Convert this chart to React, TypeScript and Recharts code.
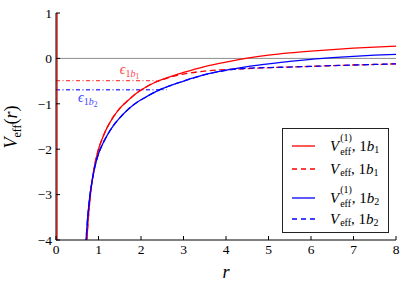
import React from 'react';
import { LineChart, Line, XAxis, YAxis, ReferenceLine, ReferenceDot, Legend } from 'recharts';

// radial coordinate samples
const rGrid = [0.7, 0.75, 0.8, 0.85, 0.9, 1.0, 1.1, 1.2, 1.35, 1.5, 1.7, 1.9, 2.1, 2.35, 2.6, 3.0, 3.5, 4.0, 4.5, 5.0, 5.5, 6.0, 6.5, 7.0, 7.5, 8.0];
// V_eff^(1), 1b1 (red solid)
const v1b1 = [-4.4, -3.65, -3.1, -2.7, -2.4, -2.0, -1.74, -1.53, -1.29, -1.1, -0.92, -0.76, -0.64, -0.52, -0.43, -0.31, -0.18, -0.08, 0.005, 0.07, 0.12, 0.16, 0.195, 0.225, 0.25, 0.27];
// V_eff, 1b1 (red dashed)
const veff1b1 = [-4.4, -3.65, -3.1, -2.7, -2.4, -2.0, -1.74, -1.53, -1.29, -1.1, -0.92, -0.76, -0.64, -0.52, -0.44, -0.345, -0.28, -0.245, -0.225, -0.205, -0.19, -0.175, -0.16, -0.145, -0.133, -0.12];
// V_eff^(1), 1b2 (blue solid)
const v1b2 = [-4.1, -3.45, -3.0, -2.7, -2.45, -2.1, -1.88, -1.7, -1.48, -1.31, -1.12, -0.97, -0.86, -0.73, -0.63, -0.5, -0.36, -0.26, -0.18, -0.12, -0.065, -0.02, 0.015, 0.045, 0.07, 0.09];
// V_eff, 1b2 (blue dashed)
const veff1b2 = [-4.1, -3.45, -3.0, -2.7, -2.45, -2.1, -1.88, -1.7, -1.48, -1.31, -1.12, -0.97, -0.86, -0.73, -0.63, -0.5, -0.36, -0.265, -0.218, -0.203, -0.19, -0.175, -0.16, -0.145, -0.133, -0.12];

// steep branch at r -> 0
const edgeR = [0.025, 0.025];
const edgeV = [1, -4];

// eigenvalue levels
const epsNames = ['1b1', '1b2'];
const epsValues = [-0.49, -0.69];
const epsEndR = [2.37, 2.6];
const epsLabelR = [1.5, 0.52];
const epsLabelV = [-0.35, -0.97];

const xTicks = [0, 1, 2, 3, 4, 5, 6, 7, 8];
const yTicks = [-4, -3, -2, -1, 0, 1];

const RED = '#ff0000';
const BLUE = '#0000ff';
const RED_LIGHT = '#ff4848';
const BLUE_LIGHT = '#4848ff';
const FONT = '"Liberation Serif", "DejaVu Serif", serif';

const data = rGrid.map((r, i) => ({ r, a: v1b1[i], b: veff1b1[i], c: v1b2[i], d: veff1b2[i] }));
const edgeData = edgeR.map((r, i) => ({ r, v: edgeV[i] }));
const epsData = epsValues.map((v, i) => [{ r: 0, v }, { r: epsEndR[i], v }]);

const fmt = (v: number) => (v < 0 ? '\u2212' + Math.abs(v) : String(v));

const YLabel = () => (
  <text
    x={17}
    y={127}
    transform="rotate(-90 17 127)"
    textAnchor="middle"
    fontFamily={FONT}
    fontSize={18}
    fill="#000"
  >
    <tspan fontStyle="italic">V</tspan>
    <tspan fontSize={12} dy={4}>eff</tspan>
    <tspan dy={-4}>(</tspan>
    <tspan fontStyle="italic">r</tspan>
    <tspan>)</tspan>
  </text>
);

const XLabel = () => (
  <text x={226} y={278} textAnchor="middle" fontFamily={FONT} fontSize={18} fontStyle="italic" fill="#000">
    r
  </text>
);

const makeEpsLabel = (idx: number, color: string) => (props: any) => {
  const vb = props.viewBox || {};
  const x = vb.x ?? 0;
  const y = vb.y ?? 0;
  const name = epsNames[idx];
  return (
    <text x={x} y={y} fontFamily={FONT} fontSize={14} fill={color}>
      <tspan fontStyle="italic">{'\u03F5'}</tspan>
      <tspan fontSize={10} dy={3}>{name[0]}</tspan>
      <tspan fontSize={10} fontStyle="italic">{name[1]}</tspan>
      <tspan fontSize={7.5} dy={2}>{name[2]}</tspan>
    </text>
  );
};

const legendRows = [
  { color: RED, dash: undefined as string | undefined, sup: true, idx: '1' },
  { color: RED, dash: '5 4', sup: false, idx: '1' },
  { color: BLUE, dash: undefined as string | undefined, sup: true, idx: '2' },
  { color: BLUE, dash: '5 4', sup: false, idx: '2' },
];
const legendCenters = [17, 40, 69, 90];

const LegendBox = () => (
  <div
    style={{
      position: 'relative',
      width: 107,
      height: 105,
      boxSizing: 'border-box',
      border: '1px solid #222',
      background: '#fff',
      fontFamily: FONT,
      fontSize: 15,
      color: '#000',
    }}
  >
    {legendRows.map((row, i) => (
      <div
        key={i}
        style={{
          position: 'absolute',
          left: 9,
          top: legendCenters[i] - 11,
          height: 22,
          display: 'flex',
          alignItems: 'center',
          whiteSpace: 'nowrap',
        }}
      >
        <svg width={23} height={4} style={{ display: 'block' }}>
          <line x1={0} y1={2} x2={23} y2={2} stroke={row.color} strokeWidth={1.3} strokeDasharray={row.dash} />
        </svg>
        <span style={{ marginLeft: 15, display: 'inline-flex', alignItems: 'center', lineHeight: 1 }}>
          <i>V</i>
          {row.sup ? (
            <span
              style={{
                display: 'inline-flex',
                flexDirection: 'column',
                fontSize: 10,
                lineHeight: 1,
                marginLeft: 1,
              }}
            >
              <span style={{ position: 'relative', top: -3 }}>(1)</span>
              <span style={{ position: 'relative', top: 1 }}>eff</span>
            </span>
          ) : (
            <span style={{ fontSize: 10, position: 'relative', top: 4, marginLeft: 1 }}>eff</span>
          )}
          <span>,&nbsp;1</span>
          <i>b</i>
          <span style={{ fontSize: 10, position: 'relative', top: 4 }}>{row.idx}</span>
        </span>
      </div>
    ))}
  </div>
);

const tickStyle = { fontFamily: FONT, fontSize: 13.5, fill: '#000' };

export default function App() {
  return (
    <div style={{ position: 'absolute', left: 0, top: 0, width: 407, height: 290, background: '#fff' }}>
      <LineChart width={407} height={290} data={data} margin={{ top: 13, right: 11, bottom: 0, left: 0 }}>
        <XAxis
          dataKey="r"
          type="number"
          domain={[0, 8]}
          ticks={xTicks}
          allowDataOverflow
          height={50}
          stroke="#000"
          tickSize={-4}
          tickMargin={8}
          tick={tickStyle}
          tickLine={{ stroke: '#000' }}
          axisLine={{ stroke: '#000' }}
          label={<XLabel />}
        />
        <XAxis
          xAxisId="top"
          orientation="top"
          dataKey="r"
          type="number"
          domain={[0, 8]}
          ticks={xTicks}
          allowDataOverflow
          height={0}
          tickSize={-4}
          tickFormatter={() => ''}
          tickLine={{ stroke: '#000' }}
          axisLine={{ stroke: '#000' }}
        />
        <YAxis
          type="number"
          domain={[-4, 1]}
          ticks={yTicks}
          allowDataOverflow
          width={56}
          tickSize={-4}
          tickMargin={8}
          tick={tickStyle}
          tickFormatter={fmt}
          tickLine={{ stroke: '#000' }}
          axisLine={{ stroke: '#000' }}
          label={<YLabel />}
        />
        <YAxis
          yAxisId="right"
          orientation="right"
          type="number"
          domain={[-4, 1]}
          ticks={yTicks}
          allowDataOverflow
          width={0}
          tickSize={-4}
          tickFormatter={() => ''}
          tickLine={{ stroke: '#000' }}
          axisLine={{ stroke: '#000' }}
        />
        <ReferenceLine y={0} stroke="#8c8c8c" strokeWidth={1} />
        <Line
          data={epsData[0]}
          dataKey="v"
          type="linear"
          stroke={RED_LIGHT}
          strokeWidth={1.4}
          strokeDasharray="4 2.5 1 2.5"
          dot={false}
          isAnimationActive={false}
          legendType="none"
        />
        <Line
          data={epsData[1]}
          dataKey="v"
          type="linear"
          stroke={BLUE_LIGHT}
          strokeWidth={1.4}
          strokeDasharray="4 2.5 1 2.5"
          dot={false}
          isAnimationActive={false}
          legendType="none"
        />
        <Line
          data={edgeData}
          dataKey="v"
          type="linear"
          stroke={RED}
          strokeWidth={1.2}
          dot={false}
          isAnimationActive={false}
          legendType="none"
        />
        <Line dataKey="a" type="monotone" stroke={RED} strokeWidth={1.3} dot={false} isAnimationActive={false} />
        <Line dataKey="b" type="monotone" stroke={RED} strokeWidth={1.3} strokeDasharray="6 3.5" dot={false} isAnimationActive={false} />
        <Line dataKey="c" type="monotone" stroke={BLUE} strokeWidth={1.3} dot={false} isAnimationActive={false} />
        <Line dataKey="d" type="monotone" stroke={BLUE} strokeWidth={1.3} strokeDasharray="6 3.5" dot={false} isAnimationActive={false} />
        <ReferenceDot
          x={epsLabelR[0]}
          y={epsLabelV[0]}
          r={0}
          fill="none"
          stroke="none"
          label={makeEpsLabel(0, RED_LIGHT)}
        />
        <ReferenceDot
          x={epsLabelR[1]}
          y={epsLabelV[1]}
          r={0}
          fill="none"
          stroke="none"
          label={makeEpsLabel(1, BLUE_LIGHT)}
        />
        <Legend
          layout="horizontal"
          verticalAlign="middle"
          align="center"
          width={107}
          wrapperStyle={{ left: 282, top: 128, width: 107 }}
          content={() => <LegendBox />}
        />
      </LineChart>
    </div>
  );
}
